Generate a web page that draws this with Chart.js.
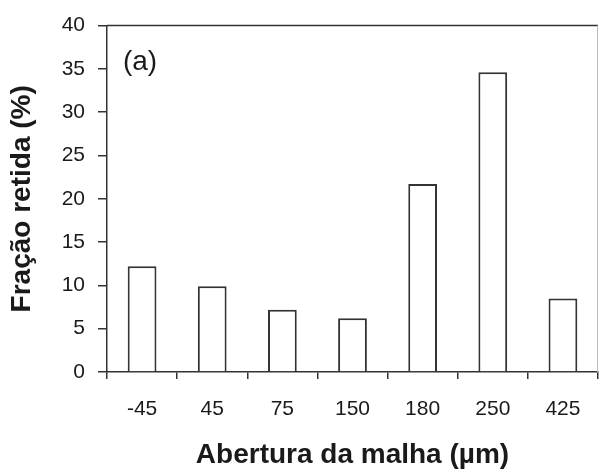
<!DOCTYPE html>
<html>
<head>
<meta charset="utf-8">
<script src="https://cdn.jsdelivr.net/npm/chart.js@4"></script>
<style>
  html, body { margin: 0; padding: 0; background: #fff; }
  #wrap { width: 599px; height: 469px; }
</style>
</head>
<body>
<div id="wrap"><canvas id="c" width="599" height="469"></canvas></div>
<script>
const categories = ['-45', '45', '75', '150', '180', '250', '425'];
const fractionRetained = [12.2, 9.9, 7.2, 6.2, 21.7, 34.6, 8.5];
const yTicks = [0, 5, 10, 15, 20, 25, 30, 35, 40];
const xTitle = 'Abertura da malha (\u00b5m)';
const yTitle = 'Fração retida (%)';
const panelLabel = '(a)';

const FONT = "'Liberation Sans', Arial, Helvetica, sans-serif";
const INK = '#1a1a1a';

const framePlugin = {
  id: 'frame',
  afterDatasetsDraw(chart) {
    const { ctx, chartArea: a } = chart;
    ctx.save();
    ctx.lineWidth = 1.5;
    ctx.strokeStyle = '#333';
    ctx.beginPath();
    ctx.moveTo(a.left, a.top);
    ctx.lineTo(a.right, a.top);
    ctx.stroke();
    ctx.lineWidth = 1;
    ctx.strokeStyle = '#bbb';
    ctx.beginPath();
    ctx.moveTo(a.right - 0.5, a.top);
    ctx.lineTo(a.right - 0.5, a.bottom);
    ctx.stroke();
    ctx.fillStyle = INK;
    ctx.font = "28px " + FONT;
    ctx.textAlign = 'center';
    ctx.textBaseline = 'middle';
    ctx.fillText(panelLabel, a.left + 33, a.top + 37);
    ctx.restore();
  }
};

new Chart(document.getElementById('c'), {
  type: 'bar',
  data: {
    labels: categories,
    datasets: [{
      data: fractionRetained,
      backgroundColor: '#ffffff',
      borderColor: '#333333',
      borderWidth: 2,
      barPercentage: 0.41,
      categoryPercentage: 1.0
    }]
  },
  options: {
    responsive: false,
    animation: false,
    layout: { padding: { top: 24, right: 1, left: 0, bottom: 0 } },
    plugins: { legend: { display: false }, tooltip: { enabled: false } },
    scales: {
      x: {
        grid: { display: true, drawOnChartArea: false, drawTicks: true, tickLength: 7, offset: true, color: '#333', lineWidth: 1.5 },
        border: { display: true, color: '#333', width: 1.5 },
        ticks: { color: INK, font: { family: FONT, size: 21 }, padding: 18, maxRotation: 0 },
        title: { display: true, text: xTitle, color: INK, font: { family: FONT, size: 28, weight: 'bold' }, padding: { top: 0, bottom: -3 } },
        afterFit(scale) { scale.height = 97; }
      },
      y: {
        min: 0, max: 40,
        afterBuildTicks(scale) { scale.ticks = yTicks.map(v => ({ value: v })); },
        grid: { display: true, drawOnChartArea: false, drawTicks: true, tickLength: 9, color: '#333', lineWidth: 1.5 },
        border: { display: true, color: '#333', width: 1.5 },
        ticks: { color: INK, font: { family: FONT, size: 21 }, padding: 13 },
        title: { display: true, text: yTitle, color: INK, font: { family: FONT, size: 28, weight: 'bold' }, padding: { top: 5, bottom: 0 } },
        afterFit(scale) { scale.width = 107; }
      }
    }
  },
  plugins: [framePlugin]
});
</script>
</body>
</html>
